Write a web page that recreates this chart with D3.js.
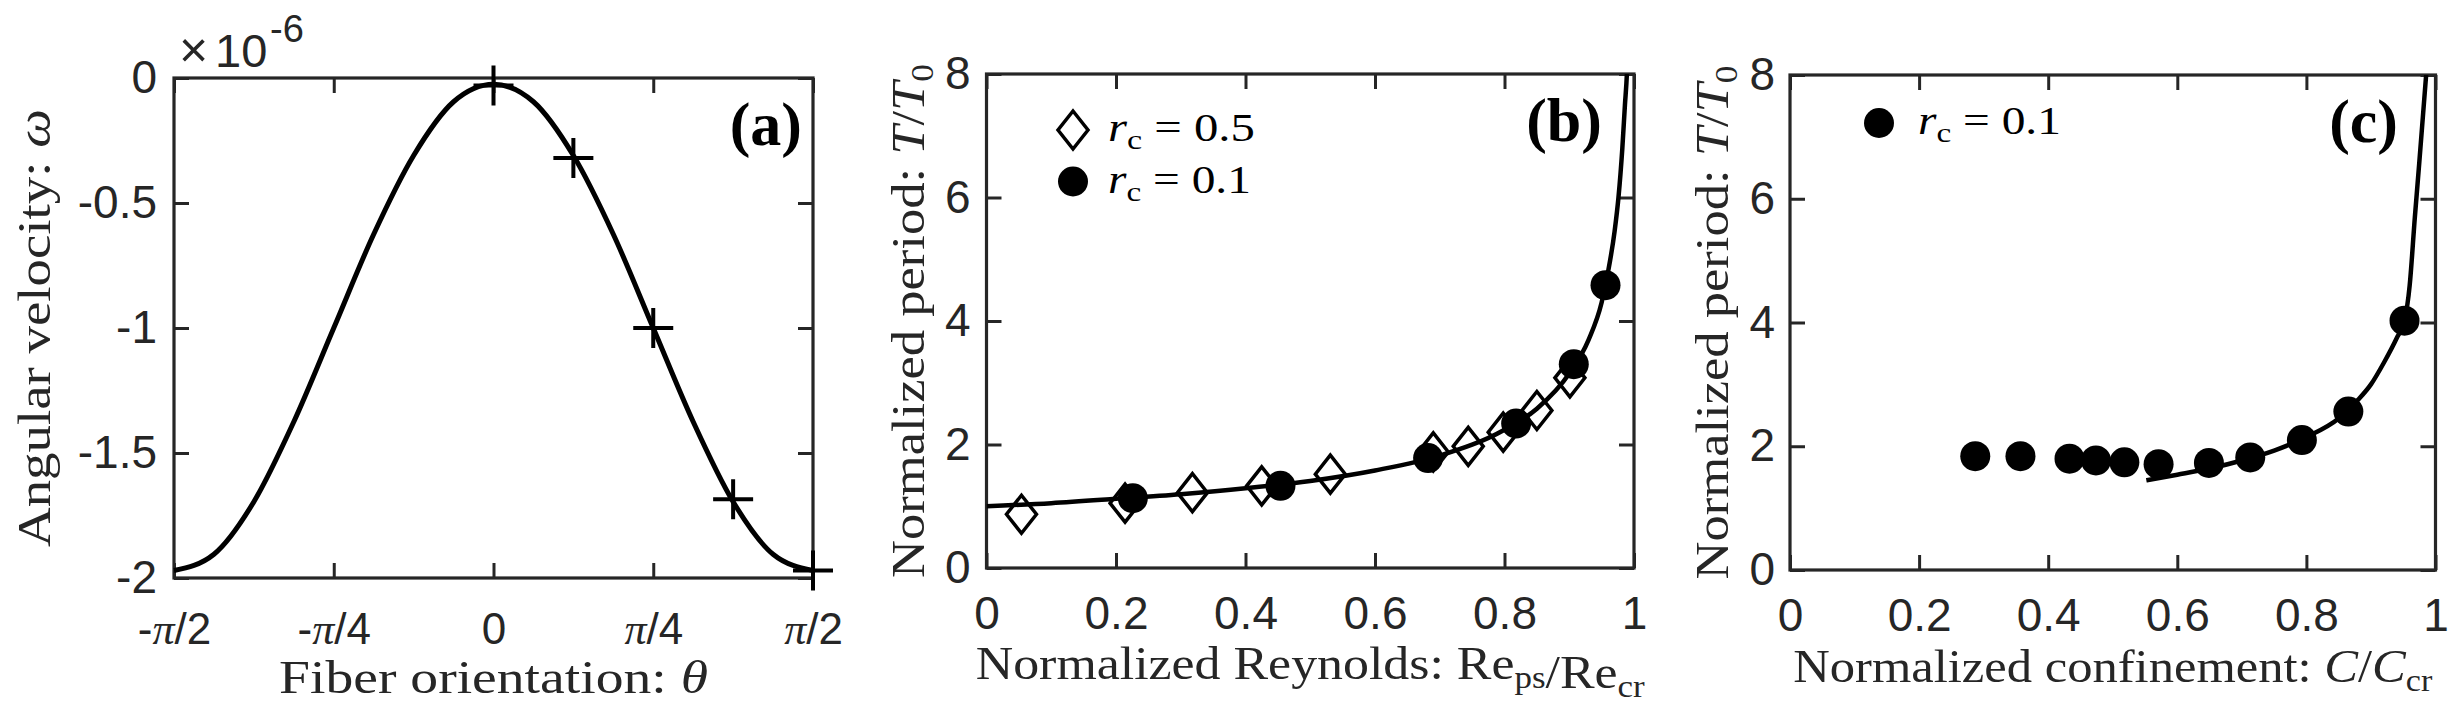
<html>
<head>
<meta charset="utf-8">
<script src="https://d3js.org/d3.v7.min.js"></script>
<style>
  body { margin: 0; background: white; }
  .tick line { stroke: #262626; stroke-width: 3; }
</style>
</head>
<body>
<svg id="fig" width="2451" height="718" style="background: white;"></svg>
<script>
  // ---- data ----
  // (a) theta in units of pi, omega in units of 1e-6
  const thetaCurve = [-0.5, -0.4375, -0.375, -0.3125, -0.25, -0.1875, -0.125, -0.0625, 0,
    0.0625, 0.125, 0.1875, 0.25, 0.3125, 0.375, 0.4375, 0.5];
  const omegaCurve = [-1.97, -1.905, -1.695, -1.375, -1.0, -0.625, -0.31, -0.095, -0.025,
    -0.095, -0.31, -0.625, -1.0, -1.375, -1.695, -1.905, -1.97];
  const thetaPlus = [0, 0.125, 0.25, 0.375, 0.5];
  const omegaPlus = [-0.03, -0.32, -1.0, -1.685, -1.97];
  const thetaTicks = [-0.5, -0.25, 0, 0.25, 0.5];
  const thetaTickLabels = ["-π/2", "-π/4", "0", "π/4", "π/2"];
  const omegaTicks = [0, -0.5, -1, -1.5, -2];
  const omegaTickLabels = ["0", "-0.5", "-1", "-1.5", "-2"];

  // (b) normalized Reynolds
  const reDiamondX = [0.054, 0.214, 0.318, 0.425, 0.531, 0.690, 0.744, 0.798, 0.850, 0.901];
  const reDiamondY = [0.87, 1.05, 1.22, 1.33, 1.52, 1.88, 1.97, 2.20, 2.55, 3.08];
  const reCircleX = [0.226, 0.454, 0.682, 0.818, 0.907, 0.956];
  const reCircleY = [1.13, 1.33, 1.78, 2.34, 3.30, 4.58];
  const reCurveX = [0, 0.1, 0.2, 0.3, 0.4, 0.5, 0.6, 0.7, 0.8, 0.85, 0.9, 0.93, 0.95, 0.96, 0.97, 0.976, 0.982, 0.986, 0.989, 0.991];
  const reCurveY = [1.0, 1.05, 1.12, 1.195, 1.29, 1.41, 1.58, 1.82, 2.24, 2.58, 3.15, 3.7, 4.3, 4.8, 5.45, 6.0, 6.8, 7.5, 8.0, 8.6];

  // (c) normalized confinement
  const cfCircleX = [0.287, 0.357, 0.433, 0.474, 0.518, 0.571, 0.649, 0.713, 0.793, 0.865, 0.952];
  const cfCircleY = [1.84, 1.84, 1.80, 1.77, 1.74, 1.71, 1.73, 1.82, 2.10, 2.56, 4.03];
  const cfCurveX = [0.552, 0.6, 0.65, 0.7, 0.75, 0.8, 0.85, 0.88, 0.9, 0.92, 0.94, 0.952, 0.96, 0.968, 0.975, 0.981, 0.987];
  const cfCurveY = [1.45, 1.54, 1.64, 1.77, 1.93, 2.15, 2.45, 2.75, 3.0, 3.35, 3.75, 4.03, 4.6, 5.7, 6.6, 7.4, 8.2];

  const unitTicks = [0, 0.2, 0.4, 0.6, 0.8, 1];
  const unitTickLabels = ["0", "0.2", "0.4", "0.6", "0.8", "1"];
  const periodTicks = [0, 2, 4, 6, 8];
  const periodTickLabels = ["0", "2", "4", "6", "8"];

  // ---- layout ----
  const svg = d3.select('svg#fig');
  const fontSans = "'Liberation Sans', Arial, Helvetica, sans-serif";
  const fontSerif = "'Liberation Serif', 'Times New Roman', serif";
  const ink = "#262626";
  const tickLen = 15;

  // stretch a text element horizontally to a target width
  function fit(text, w) {
    const bw = text.node().getBBox().width;
    text.attr("transform", `scale(${w / bw},1)`);
  }

  function makePanel(p) {
    const x = d3.scaleLinear().domain(p.xDomain).range([p.x0, p.x1]);
    const y = d3.scaleLinear().domain(p.yDomain).range([p.y1, p.y0]);
    const g = svg.append("g").attr("id", "panel-" + p.id);

    // bottom axis
    let bottom = g.append("g")
      .attr("transform", `translate(0,${p.y1})`)
      .call(d3.axisBottom(x).tickValues(p.xTicks)
        .tickFormat((d, i) => p.xLabels[i])
        .tickSizeInner(-tickLen).tickSizeOuter(0).tickPadding(p.xPad));
    bottom.selectAll("text")
      .attr("font-family", fontSans).attr("font-size", p.xFont).attr("fill", ink);

    // left axis
    let left = g.append("g")
      .attr("transform", `translate(${p.x0},0)`)
      .call(d3.axisLeft(y).tickValues(p.yTicks)
        .tickFormat((d, i) => p.yLabels[i])
        .tickSizeInner(-tickLen).tickSizeOuter(0).tickPadding(p.yPad));
    left.selectAll("text")
      .attr("font-family", fontSans).attr("font-size", 46).attr("fill", ink);

    // top & right ticks (box on)
    let top = g.append("g").attr("transform", `translate(0,${p.y0})`)
      .call(d3.axisTop(x).tickValues(p.xTicks).tickFormat("").tickSizeInner(-tickLen).tickSizeOuter(0));
    let right = g.append("g").attr("transform", `translate(${p.x1},0)`)
      .call(d3.axisRight(y).tickValues(p.yTicks).tickFormat("").tickSizeInner(-tickLen).tickSizeOuter(0));
    [bottom, left, top, right].forEach(a => a.select(".domain").remove());

    g.append("rect")
      .attr("x", p.x0).attr("y", p.y0)
      .attr("width", p.x1 - p.x0).attr("height", p.y1 - p.y0)
      .attr("fill", "none").attr("stroke", ink).attr("stroke-width", 3.2);

    g.append("clipPath").attr("id", "clip-" + p.id)
      .append("rect")
      .attr("x", p.x0).attr("y", p.y0)
      .attr("width", p.x1 - p.x0).attr("height", p.y1 - p.y0);

    // x label
    let xl = g.append("g").attr("transform", `translate(${(p.x0 + p.x1) / 2},${p.xLabelY})`)
      .append("text")
      .attr("text-anchor", "middle")
      .attr("font-family", fontSerif).attr("font-size", 46).attr("fill", ink);
    p.xLabel(xl);
    fit(xl, p.xLabelW);

    // y label
    let yl = g.append("g").attr("transform", `translate(${p.yLabelX},${(p.y0 + p.y1) / 2}) rotate(-90)`)
      .append("text")
      .attr("text-anchor", "middle")
      .attr("font-family", fontSerif).attr("font-size", 46).attr("fill", ink);
    p.yLabel(yl);
    fit(yl, p.yLabelW);

    // panel tag
    g.append("text")
      .attr("x", p.tagX).attr("y", p.y0 + 67)
      .attr("text-anchor", "end")
      .attr("font-family", fontSerif).attr("font-weight", "bold")
      .attr("font-size", 62).attr("fill", "black")
      .text(p.tag);

    return { g, x, y, bottom };
  }

  function sub(text, main, s) {
    text.append("tspan").text(main);
    text.append("tspan").attr("font-size", 31).attr("dy", 9).text(s);
    text.append("tspan").attr("dy", -9).text("");
  }

  // ---------- panel (a) ----------
  const A = makePanel({
    id: "a", x0: 174, x1: 813, y0: 78, y1: 578,
    xDomain: [-0.5, 0.5], yDomain: [-2, 0],
    xTicks: thetaTicks, xLabels: thetaTickLabels, xPad: 35, xFont: 44,
    yTicks: omegaTicks, yLabels: omegaTickLabels, yPad: 17,
    xLabelY: 693, xLabelW: 429,
    xLabel: t => {
      t.append("tspan").text("Fiber orientation:  ");
      t.append("tspan").attr("font-style", "italic").text("θ");
    },
    yLabelX: 50, yLabelW: 438,
    yLabel: t => {
      t.append("tspan").text("Angular velocity:  ");
      t.append("tspan").attr("font-style", "italic").text("ω");
    },
    tag: "(a)", tagX: 802
  });

  // italic pi in the theta tick labels
  A.bottom.selectAll("text").each(function (d, i) {
    const t = d3.select(this).text(null);
    thetaTickLabels[i].split(/(π)/).forEach(part => {
      if (!part) return;
      const ts = t.append("tspan").text(part);
      if (part === "π") ts.attr("font-family", fontSerif).attr("font-style", "italic");
    });
  });

  // exponent note
  const expo = A.g.append("text").attr("font-family", fontSans).attr("fill", ink);
  expo.append("tspan").attr("x", 179).attr("y", 67).attr("font-size", 50).text("×");
  expo.append("tspan").attr("x", 215).attr("y", 67).attr("font-size", 47).text("10");
  expo.append("tspan").attr("x", 270).attr("y", 42).attr("font-size", 38).text("-6");

  const omegaLine = d3.line()
    .x(d => A.x(d[0])).y(d => A.y(d[1]))
    .curve(d3.curveMonotoneX);
  A.g.append("path")
    .datum(d3.zip(thetaCurve, omegaCurve))
    .attr("d", omegaLine)
    .attr("fill", "none").attr("stroke", "black").attr("stroke-width", 5);

  A.g.selectAll("path.plus")
    .data(d3.zip(thetaPlus, omegaPlus))
    .join("path")
    .attr("class", "plus")
    .attr("transform", d => `translate(${A.x(d[0])},${A.y(d[1])})`)
    .attr("d", "M-20,0H20M0,-20V20")
    .attr("stroke", "black").attr("stroke-width", 4);

  // ---------- panel (b) ----------
  const B = makePanel({
    id: "b", x0: 986.5, x1: 1634, y0: 74, y1: 568,
    xDomain: [0, 1], yDomain: [0, 8],
    xTicks: unitTicks, xLabels: unitTickLabels, xPad: 28, xFont: 46,
    yTicks: periodTicks, yLabels: periodTickLabels, yPad: 16,
    xLabelY: 679, xLabelW: 670,
    xLabel: t => {
      t.append("tspan").text("Normalized Reynolds:  ");
      sub(t, "Re", "ps");
      t.append("tspan").text("/");
      sub(t, "Re", "cr");
    },
    yLabelX: 924, yLabelW: 514,
    yLabel: t => {
      t.append("tspan").text("Normalized period:  ");
      t.append("tspan").attr("font-style", "italic").text("T");
      t.append("tspan").text("/");
      t.append("tspan").attr("font-style", "italic").text("T");
      t.append("tspan").attr("font-size", 31).attr("dy", 9).text("0");
    },
    tag: "(b)", tagX: 1602
  });

  const reLine = d3.line()
    .x(d => B.x(d[0])).y(d => B.y(d[1]))
    .curve(d3.curveMonotoneX);
  B.g.append("path")
    .datum(d3.zip(reCurveX, reCurveY))
    .attr("d", reLine)
    .attr("clip-path", "url(#clip-b)")
    .attr("fill", "none").attr("stroke", "black").attr("stroke-width", 4.5);

  const diamond = "M0,-19L15,0L0,19L-15,0Z";
  B.g.selectAll("path.diamond")
    .data(d3.zip(reDiamondX, reDiamondY))
    .join("path")
    .attr("class", "diamond")
    .attr("transform", d => `translate(${B.x(d[0])},${B.y(d[1])})`)
    .attr("d", diamond)
    .attr("fill", "none").attr("stroke", "black").attr("stroke-width", 3.5);

  B.g.selectAll("circle.dot")
    .data(d3.zip(reCircleX, reCircleY))
    .join("circle")
    .attr("class", "dot")
    .attr("cx", d => B.x(d[0])).attr("cy", d => B.y(d[1]))
    .attr("r", 15).attr("fill", "black");

  // legend (b)
  function legendText(g, x, y, value, w) {
    const t = g.append("g").attr("transform", `translate(${x},${y})`)
      .append("text")
      .attr("font-family", fontSerif).attr("font-size", 40).attr("fill", "black");
    t.append("tspan").attr("font-style", "italic").text("r");
    t.append("tspan").attr("font-size", 28).attr("dy", 8).text("c");
    t.append("tspan").attr("dy", -8).text(" = " + value);
    fit(t, w);
  }
  B.g.append("path")
    .attr("transform", "translate(1073,130)")
    .attr("d", diamond)
    .attr("fill", "none").attr("stroke", "black").attr("stroke-width", 3.5);
  legendText(B.g, 1108, 141, "0.5", 147);
  B.g.append("circle").attr("cx", 1073).attr("cy", 181.5).attr("r", 15).attr("fill", "black");
  legendText(B.g, 1108, 192.5, "0.1", 143);

  // ---------- panel (c) ----------
  const C = makePanel({
    id: "c", x0: 1790, x1: 2435.5, y0: 75, y1: 570,
    xDomain: [0, 1], yDomain: [0, 8],
    xTicks: unitTicks, xLabels: unitTickLabels, xPad: 28, xFont: 46,
    yTicks: periodTicks, yLabels: periodTickLabels, yPad: 15,
    xLabelY: 682, xLabelW: 640,
    xLabel: t => {
      t.append("tspan").text("Normalized confinement:  ");
      t.append("tspan").attr("font-style", "italic").text("C");
      t.append("tspan").text("/");
      t.append("tspan").attr("font-style", "italic").text("C");
      t.append("tspan").attr("font-size", 31).attr("dy", 9).text("cr");
    },
    yLabelX: 1728, yLabelW: 514,
    yLabel: t => {
      t.append("tspan").text("Normalized period:  ");
      t.append("tspan").attr("font-style", "italic").text("T");
      t.append("tspan").text("/");
      t.append("tspan").attr("font-style", "italic").text("T");
      t.append("tspan").attr("font-size", 31).attr("dy", 9).text("0");
    },
    tag: "(c)", tagX: 2398
  });

  const cfLine = d3.line()
    .x(d => C.x(d[0])).y(d => C.y(d[1]))
    .curve(d3.curveMonotoneX);
  C.g.append("path")
    .datum(d3.zip(cfCurveX, cfCurveY))
    .attr("d", cfLine)
    .attr("clip-path", "url(#clip-c)")
    .attr("fill", "none").attr("stroke", "black").attr("stroke-width", 4.5);

  C.g.selectAll("circle.dot")
    .data(d3.zip(cfCircleX, cfCircleY))
    .join("circle")
    .attr("class", "dot")
    .attr("cx", d => C.x(d[0])).attr("cy", d => C.y(d[1]))
    .attr("r", 15).attr("fill", "black");

  C.g.append("circle").attr("cx", 1879).attr("cy", 123).attr("r", 15).attr("fill", "black");
  legendText(C.g, 1918, 133.5, "0.1", 143);
</script>
</body>
</html>
